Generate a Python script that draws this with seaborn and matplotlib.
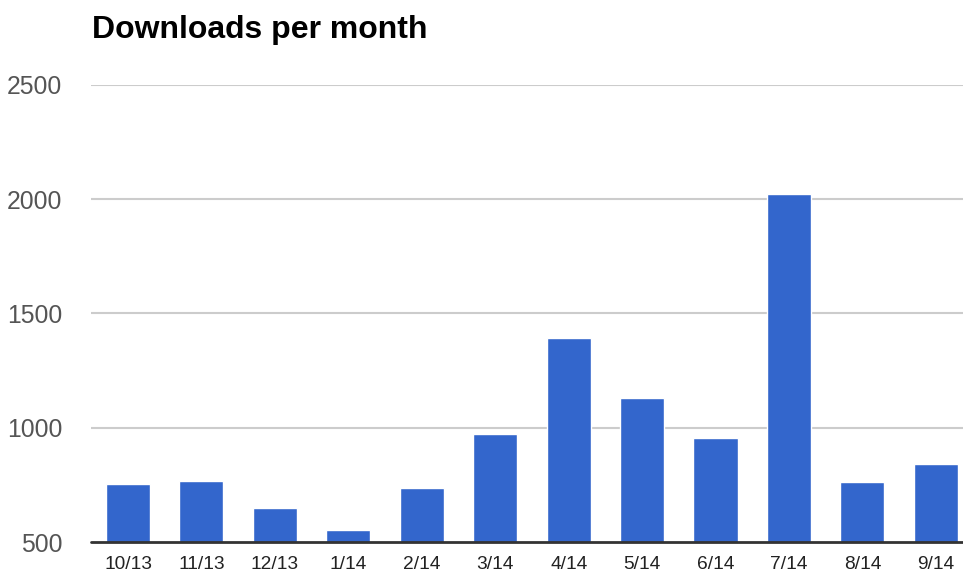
import pandas as pd
import matplotlib.pyplot as plt
import seaborn as sns

months = ["10/13", "11/13", "12/13", "1/14", "2/14", "3/14",
          "4/14", "5/14", "6/14", "7/14", "8/14", "9/14"]
downloads = [752, 769, 647, 552, 735, 971, 1392, 1130, 954, 2024, 762, 840]
y_ticks = [500, 1000, 1500, 2000, 2500]

df = pd.DataFrame({"month": months, "downloads": downloads})

sns.set_style("white")
plt.rcParams["font.family"] = ["Liberation Sans", "DejaVu Sans"]

fig = plt.figure(figsize=(9.63, 5.73), dpi=100, facecolor="white")
ax = fig.add_axes([0.0948, 0.0541, 0.9052, 0.7976])

sns.barplot(data=df, x="month", y="downloads", color="#3366cc",
            saturation=1, width=0.6, ax=ax)

ax.set_ylim(500, 2500)
ax.set_xlim(-0.5, 11.37)
ax.set_yticks(y_ticks)
ax.set_xlabel("")
ax.set_ylabel("")

# gridlines behind bars, dark baseline at the bottom
for t in y_ticks[1:]:
    ax.axhline(t, color="#cccccc", linewidth=1.5, zorder=0)
ax.axhline(500, color="#333333", linewidth=2, zorder=3, clip_on=False)

for s in ax.spines.values():
    s.set_visible(False)

ax.tick_params(axis="y", length=0, pad=21, labelsize=17.8, labelcolor="#555555")
ax.tick_params(axis="x", length=0, pad=10, labelsize=13.8, labelcolor="#222222")

fig.text(0.0955, 0.948, "Downloads per month", fontsize=23, fontweight="bold",
         color="#000000", ha="left", va="center")

fig.savefig("out.png", dpi=100, facecolor="white")
